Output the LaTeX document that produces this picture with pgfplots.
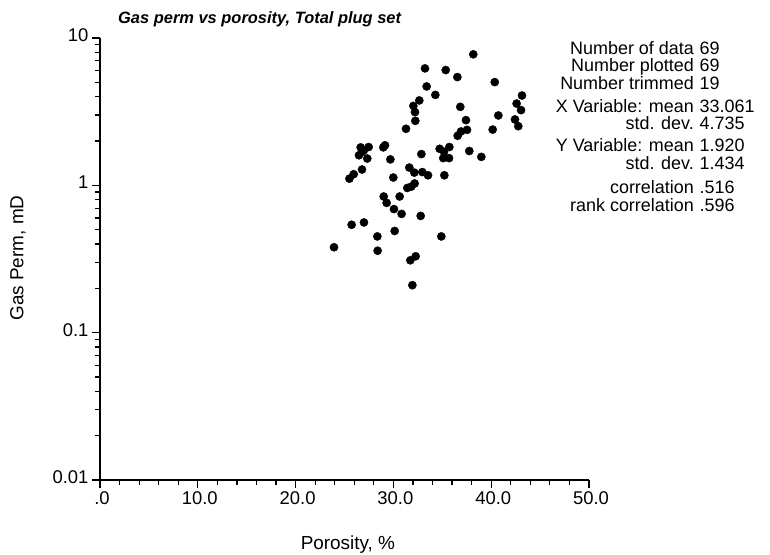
\documentclass[border=0pt]{standalone}
\usepackage{fontspec}
\setmainfont{Liberation Sans}
\usepackage{pgfplots}
\pgfplotsset{compat=1.18}
\begin{document}
\begin{tikzpicture}
\path[use as bounding box] (-100bp,-75bp) rectangle (670bp,480bp);
\begin{axis}[
  at={(0,0)}, anchor=south west,
  scale only axis, width=489bp, height=442bp,
  xmin=0, xmax=50, ymin=0.01, ymax=10, ymode=log,
  axis x line*=bottom, axis y line*=left,
  axis line style={line width=1.7pt, black},
  xtick={0,10,20,30,40,50},
  xticklabels={.0,10.0,20.0,30.0,40.0,50.0},
  minor xtick={2,4,6,8,12,14,16,18,22,24,26,28,32,34,36,38,42,44,46,48},
  ytick={0.01,0.1,1,10},
  yticklabels={0.01,0.1,1,10},
  minor ytick={0.02,0.03,0.04,0.05,0.06,0.07,0.08,0.09,0.2,0.3,0.4,0.5,0.6,0.7,0.8,0.9,2,3,4,5,6,7,8,9},
  tick align=outside,
  major tick length=8bp, minor tick length=5bp,
  tick style={line width=1.2pt, black},
  tick label style={font=\fontsize{18.5}{18.5}\selectfont},
  yticklabel style={yshift=3bp},
  xticklabel style={xshift=2bp},
  xlabel={Porosity, \%},
  ylabel={Gas Perm, mD},
  label style={font=\fontsize{19}{19}\selectfont},
  x label style={at={(axis description cs:0.507,0)}, anchor=base, yshift=-69bp},
  y label style={at={(axis description cs:-0.1677,0.502)}, anchor=center},
  clip=false,
]
\addplot[only marks, mark=*, mark size=4.1bp, black] table {
x y
38.17 7.75
33.23 6.22
35.35 6.06
36.54 5.43
40.36 5.02
33.40 4.69
34.29 4.11
43.15 4.07
32.65 3.77
32.04 3.46
42.60 3.59
36.84 3.41
43.05 3.24
32.21 3.14
40.73 2.98
37.42 2.77
32.24 2.74
42.43 2.80
42.77 2.52
31.29 2.42
40.15 2.39
37.53 2.38
36.91 2.32
36.57 2.17
29.14 1.87
28.97 1.81
26.65 1.81
27.47 1.82
26.99 1.73
26.48 1.60
27.33 1.52
34.73 1.77
35.72 1.82
35.17 1.69
37.76 1.71
32.86 1.63
35.10 1.53
35.69 1.53
38.99 1.56
29.69 1.50
31.63 1.32
32.14 1.22
32.96 1.23
33.54 1.17
35.21 1.17
26.79 1.28
25.94 1.19
25.50 1.11
29.99 1.13
32.17 1.03
31.83 0.98
31.42 0.96
29.01 0.84
30.64 0.84
29.31 0.76
30.06 0.69
30.84 0.64
32.79 0.62
25.73 0.54
26.99 0.56
28.36 0.45
30.13 0.49
34.90 0.45
23.93 0.38
28.39 0.36
32.28 0.33
31.73 0.31
31.94 0.21
26.82 1.69
};
\end{axis}
\node[anchor=base west, inner sep=0, font=\fontsize{16.5}{16.5}\selectfont\bfseries\itshape] at (18bp,456bp) {Gas perm vs porosity, Total plug set};
\begin{scope}[every node/.style={inner sep=0, font=\fontsize{18}{18}\selectfont}]
\node[anchor=base east] at (594bp,425.5bp) {Number of data};
\node[anchor=base west] at (599.5bp,425.5bp) {69};
\node[anchor=base east] at (594bp,408bp) {Number plotted};
\node[anchor=base west] at (599.5bp,408bp) {69};
\node[anchor=base east] at (594bp,390.5bp) {Number trimmed};
\node[anchor=base west] at (599.5bp,390.5bp) {19};
\node[anchor=base east] at (594bp,367bp) {X Variable: mean};
\node[anchor=base west] at (599.5bp,367bp) {33.061};
\node[anchor=base east] at (594bp,350bp) {std. dev.};
\node[anchor=base west] at (599.5bp,350bp) {4.735};
\node[anchor=base east] at (594bp,328bp) {Y Variable: mean};
\node[anchor=base west] at (599.5bp,328bp) {1.920};
\node[anchor=base east] at (594bp,310.5bp) {std. dev.};
\node[anchor=base west] at (599.5bp,310.5bp) {1.434};
\node[anchor=base east] at (594bp,286bp) {correlation};
\node[anchor=base west] at (599.5bp,286bp) {.516};
\node[anchor=base east] at (594bp,268.5bp) {rank correlation};
\node[anchor=base west] at (599.5bp,268.5bp) {.596};
\end{scope}
\end{tikzpicture}
\end{document}
